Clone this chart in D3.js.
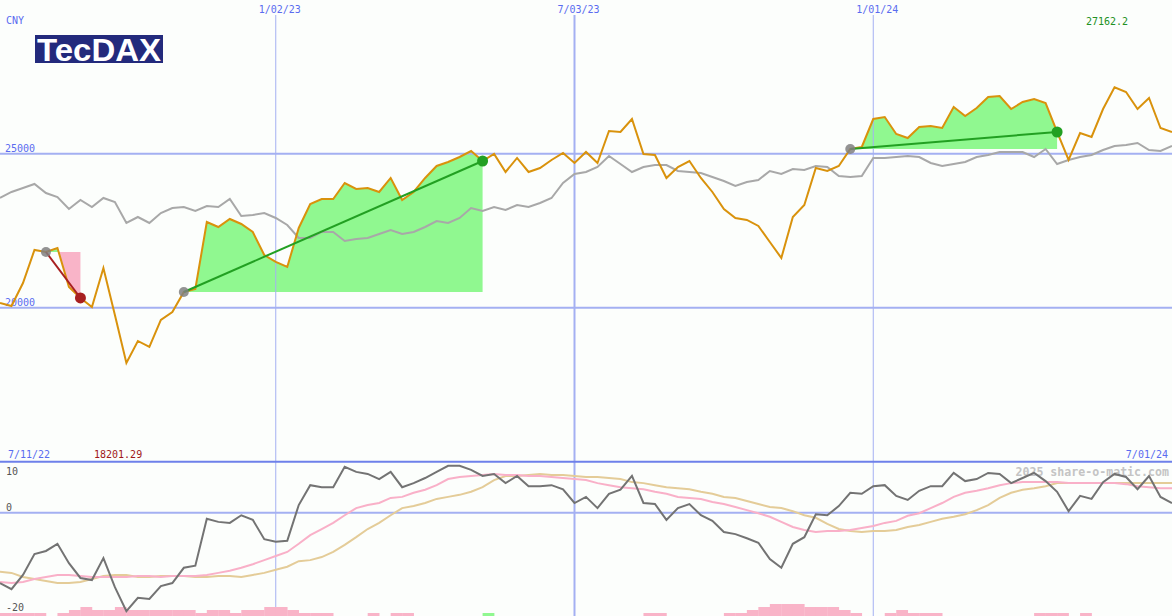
<!DOCTYPE html>
<html><head><meta charset="utf-8">
<script src="https://cdn.jsdelivr.net/npm/d3@7"></script>
<style>
html,body{margin:0;padding:0;background:#fcfefc;}
svg{display:block;}
text{font-family:"DejaVu Sans Mono",monospace;font-size:10px;}
</style></head>
<body><svg id="c" width="1172" height="616"></svg>
<script>
// ---------- data (weekly, index 0 = first week shown) ----------
const priceValues = [
20152,20055,20802,21875,21810,21940,20672,20315,20022,21290,
19762,18201.29,18917,18722,19600,19860,20510,20607,22785,22622,
22882,22720,22460,21712,21485,21322,22590,23370,23532,23532,
24052,23857,23890,23760,24215,23500,23760,24215,24605,24735,
24897,25092,24767,24995,24410,24865,24410,24540,24800,25027,
24702,25060,24702,25742,25710,26132,24995,24962,24215,24572,
24767,24215,23760,23207,22915,22850,22655,22135,21615,22947,
23337,24540,24442,24605,25157,25222,26132,26197,25645,25515,
25872,25905,25840,26522,26230,26490,26847,26880,26457,26685,
26782,26652,25710,24800,25677,25547,26457,27162.2,27010,26457,
26815,25840,25710];

const benchmarkValues = [
23565,23760,23890,24020,23727,23597,23207,23500,23272,23565,
23435,22752,22947,22752,23077,23240,23272,23142,23305,23272,
23532,22980,23012,23077,22915,22687,22265,22265,22460,22460,
22167,22232,22265,22395,22525,22395,22460,22622,22817,22752,
22915,23240,23142,23272,23175,23337,23272,23402,23565,24052,
24345,24410,24572,24930,24670,24410,24572,24637,24637,24442,
24410,24377,24247,24117,23955,24085,24150,24442,24345,24507,
24475,24605,24572,24280,24247,24280,24865,24865,24897,24930,
24897,24702,24605,24670,24735,24897,24962,25060,25060,25060,
24897,25157,24670,24800,24897,24962,25125,25255,25287,25352,
25125,25092,25255];

const momentumValues = [
-13.8,-15.0,-12.2,-8.1,-7.5,-6.1,-9.9,-12.8,-13.2,-8.9,
-14.6,-19.3,-16.7,-16.9,-14.4,-13.8,-10.8,-10.4,-1.2,-1.8,
-2.0,-0.5,-1.4,-5.2,-5.7,-5.5,1.5,5.4,5.0,5.0,
9.0,8.0,7.6,6.6,8.0,5.0,5.8,6.8,8.0,9.2,
9.2,8.4,7.2,7.6,5.8,7.2,5.2,5.2,5.4,4.6,
1.9,3.1,0.9,3.7,4.5,7.2,1.9,1.7,-1.4,0.9,
1.7,-0.5,-1.6,-3.8,-4.2,-5.0,-5.9,-9.1,-10.8,-6.1,
-4.8,-0.3,-0.5,1.3,3.9,3.7,5.2,5.4,3.3,2.5,
4.3,5.2,5.2,7.8,6.2,6.6,7.8,7.6,5.8,6.8,
7.8,6.2,4.1,0.3,3.3,2.7,6.0,7.6,7.0,4.6,
7.2,3.1,1.9];

const fastAvgValues = [
-13.6,-13.8,-13.6,-13.0,-12.6,-12.2,-12.2,-12.4,-12.6,-12.6,
-12.6,-12.6,-12.4,-12.4,-12.6,-12.4,-12.4,-12.4,-12.2,-11.8,
-11.4,-10.8,-10.1,-9.3,-8.5,-7.7,-6.1,-4.4,-3.2,-2.0,
-0.5,0.9,1.5,1.9,2.9,3.1,3.9,4.5,5.4,6.6,
7.0,7.2,7.4,7.6,7.4,7.4,7.2,7.2,7.0,6.8,
6.6,6.4,5.8,5.4,5.0,4.8,4.6,4.1,3.7,3.1,
2.9,2.7,2.1,1.7,1.1,0.5,-0.1,-0.8,-1.8,-2.8,
-3.4,-3.8,-3.6,-3.6,-3.4,-3.0,-2.6,-2.0,-1.6,-0.6,
-0.1,0.9,1.9,3.1,3.9,4.3,4.8,5.4,5.8,6.0,
6.0,6.0,6.0,5.8,5.8,5.8,5.8,5.8,5.6,5.2,
5.0,4.8,4.8];

const slowAvgValues = [
-11.6,-11.8,-12.6,-13.0,-13.4,-13.8,-13.8,-13.6,-13.0,-12.4,
-12.2,-12.2,-12.6,-12.6,-12.4,-12.4,-12.4,-12.6,-12.6,-12.4,
-12.4,-12.6,-12.2,-11.8,-11.2,-10.6,-9.5,-9.3,-8.7,-7.7,
-6.3,-4.8,-3.2,-2.0,-0.5,0.9,1.3,1.9,2.7,3.1,
3.5,4.1,5.0,6.4,7.2,7.2,7.4,7.6,7.4,7.4,
7.2,7.0,7.0,6.8,6.6,6.0,5.8,5.4,5.0,4.8,
4.6,4.1,3.7,3.1,2.9,2.3,1.7,1.1,0.9,0.3,
-0.5,-1.0,-2.2,-3.2,-3.6,-3.8,-3.6,-3.6,-3.4,-2.8,
-2.4,-1.8,-1.2,-0.8,-0.3,0.5,1.5,2.9,3.9,4.5,
4.8,5.2,5.8,5.8,5.8,5.8,5.8,5.8,5.8,5.8,
5.8,5.8,5.8];

// signal bars (positive = pink, negative = green)
const signalBars = [
1,1,1,1,0,1,2,3,2,2,
3,2,2,2,2,2,2,1,2,2,
1,2,2,3,3,2,1,1,1,0,
0,0,1,0,1,1,0,0,0,0,
0,0,-1,0,0,0,0,0,0,0,
0,0,0,0,0,0,1,1,0,0,
0,0,0,1,1,2,3,4,4,4,
3,3,3,2,1,0,0,1,2,1,
1,1,0,0,0,0,0,0,0,0,
1,1,1,0,1,0,0,0,0,0,
0,0];

const tradeStart = [4, 16, 74];
const tradeEnd   = [7, 42, 92];

const tickLabels = ["1/02/23", "7/03/23", "1/01/24"];
const tickIndex  = [24, 50, 76];
const tickWidth  = [1, 2, 1];
const priceTicks = [25000, 20000];
const oscTicks = [10, 0, -20];

const startLabel = "7/11/22", endLabel = "7/01/24";
const minLabel = "18201.29", maxLabel = "27162.2";
const currencyLabel = "CNY", titleLabel = "TecDAX";
const watermark = "2025 share-o-matic.com";

// ---------- drawing ----------
const W = 1172, H = 616;
const svg = d3.select("#c");
svg.append("rect").attr("width", W).attr("height", H).attr("fill", "#fcfefc");

const x = d3.scaleLinear().domain([0, priceValues.length - 1]).range([0, W]);
const y = d3.scaleLinear().domain([15000, 30000]).range([461.5, 0]);
const yo = d3.scaleLinear().domain([-20, 10]).range([614.7, 461.7]);
const barH = d3.scaleLinear().domain([0, 4]).range([0, 12]);

const gridColor = "#a4b0f2";

// trade fills
const defs = svg.append("defs");
tradeStart.forEach((s, k) => {
  const e = tradeEnd[k];
  const lvl = priceValues[s];
  const idx = d3.range(s, e + 1);
  const area = d3.area().x(i => x(i)).y0(y(lvl)).y1(i => y(priceValues[i]));
  defs.append("clipPath").attr("id", "up" + k).append("rect")
    .attr("x", 0).attr("y", 0).attr("width", W).attr("height", y(lvl));
  defs.append("clipPath").attr("id", "dn" + k).append("rect")
    .attr("x", 0).attr("y", y(lvl)).attr("width", W).attr("height", 461 - y(lvl));
  svg.append("path").datum(idx).attr("d", area).attr("fill", "#90f890")
    .attr("clip-path", `url(#up${k})`);
  svg.append("path").datum(idx).attr("d", area).attr("fill", "#f9b4c8")
    .attr("clip-path", `url(#dn${k})`);
});

// vertical grid lines
tickIndex.forEach((t, k) => {
  svg.append("line").attr("x1", x(t)).attr("x2", x(t)).attr("y1", 15).attr("y2", H)
    .attr("stroke", gridColor).attr("stroke-width", tickWidth[k]);
  svg.append("text").attr("x", x(t) + 4).attr("y", 13).attr("text-anchor", "middle")
    .attr("fill", "#5a6cf0").text(tickLabels[k]);
});

// horizontal price grid
priceTicks.forEach(v => {
  svg.append("line").attr("x1", 0).attr("x2", W).attr("y1", y(v)).attr("y2", y(v))
    .attr("stroke", gridColor).attr("stroke-width", 2);
  svg.append("text").attr("x", 5).attr("y", y(v) - 1.5).attr("fill", "#5a6cf0").text(v);
});

// oscillator panel frame
svg.append("line").attr("x1", 0).attr("x2", W).attr("y1", yo(10)).attr("y2", yo(10))
  .attr("stroke", "#6e80ea").attr("stroke-width", 2);
svg.append("line").attr("x1", 0).attr("x2", W).attr("y1", yo(0)).attr("y2", yo(0))
  .attr("stroke", gridColor).attr("stroke-width", 2);
const oscLabelY = {"10": 475, "0": 511, "-20": 611};
oscTicks.forEach(v => {
  svg.append("text").attr("x", 6).attr("y", oscLabelY[v]).attr("fill", "#555").text(v);
});

// watermark
svg.append("text").attr("x", 1169).attr("y", 476).attr("text-anchor", "end")
  .attr("fill", "#c4c4c4").attr("font-weight", "bold").style("font-size", "11.6px").text(watermark);

// signal bars
svg.append("g").selectAll("rect").data(signalBars).join("rect")
  .attr("x", (d, i) => x(i)).attr("width", x(1) - x(0) + 0.3)
  .attr("y", d => H - barH(Math.abs(d))).attr("height", d => barH(Math.abs(d)))
  .attr("fill", d => d < 0 ? "#90f890" : "#f9b4c8");

// oscillator lines
const oscLine = arr => d3.line().x((d, i) => x(i)).y(d => yo(d))(arr);
svg.append("path").attr("d", oscLine(slowAvgValues)).attr("fill", "none")
  .attr("stroke", "#e4cc98").attr("stroke-width", 2);
svg.append("path").attr("d", oscLine(fastAvgValues)).attr("fill", "none")
  .attr("stroke", "#f9b0c8").attr("stroke-width", 2);
svg.append("path").attr("d", oscLine(momentumValues)).attr("fill", "none")
  .attr("stroke", "#737373").attr("stroke-width", 2);

// price lines
const pLine = arr => d3.line().x((d, i) => x(i)).y(d => y(d))(arr);
svg.append("path").attr("d", pLine(benchmarkValues)).attr("fill", "none")
  .attr("stroke", "#a8a8a8").attr("stroke-width", 2);
svg.append("path").attr("d", pLine(priceValues)).attr("fill", "none")
  .attr("stroke", "#d9920c").attr("stroke-width", 2);

// trade lines and markers
tradeStart.forEach((s, k) => {
  const e = tradeEnd[k];
  const win = priceValues[e] >= priceValues[s];
  const col = win ? "#22a022" : "#a82020";
  svg.append("line").attr("x1", x(s)).attr("y1", y(priceValues[s]))
    .attr("x2", x(e)).attr("y2", y(priceValues[e]))
    .attr("stroke", col).attr("stroke-width", 2);
  svg.append("circle").attr("cx", x(s)).attr("cy", y(priceValues[s])).attr("r", 5)
    .attr("fill", "#808080").attr("fill-opacity", 0.85);
  svg.append("circle").attr("cx", x(e)).attr("cy", y(priceValues[e])).attr("r", 5.5)
    .attr("fill", col);
});

// labels
svg.append("text").attr("x", 6).attr("y", 24).attr("fill", "#5a6cf0").text(currencyLabel);
svg.append("text").attr("x", 1086).attr("y", 25).attr("fill", "#229022").text(maxLabel);
svg.append("text").attr("x", 8).attr("y", 458).attr("fill", "#5a6cf0").text(startLabel);
svg.append("text").attr("x", 94).attr("y", 458).attr("fill", "#a01818").text(minLabel);
svg.append("text").attr("x", 1168).attr("y", 458).attr("text-anchor", "end").attr("fill", "#5a6cf0").text(endLabel);

// logo
svg.append("rect").attr("x", 35).attr("y", 35).attr("width", 128).attr("height", 28).attr("fill", "#232a7c");
svg.append("text").attr("x", 37).attr("y", 61).attr("fill", "#fff")
  .style("font-family", "'Liberation Sans',Arial,sans-serif").style("font-weight", "bold")
  .style("font-size", "32px").attr("textLength", 124).attr("lengthAdjust", "spacingAndGlyphs")
  .text(titleLabel);
</script></body></html>
